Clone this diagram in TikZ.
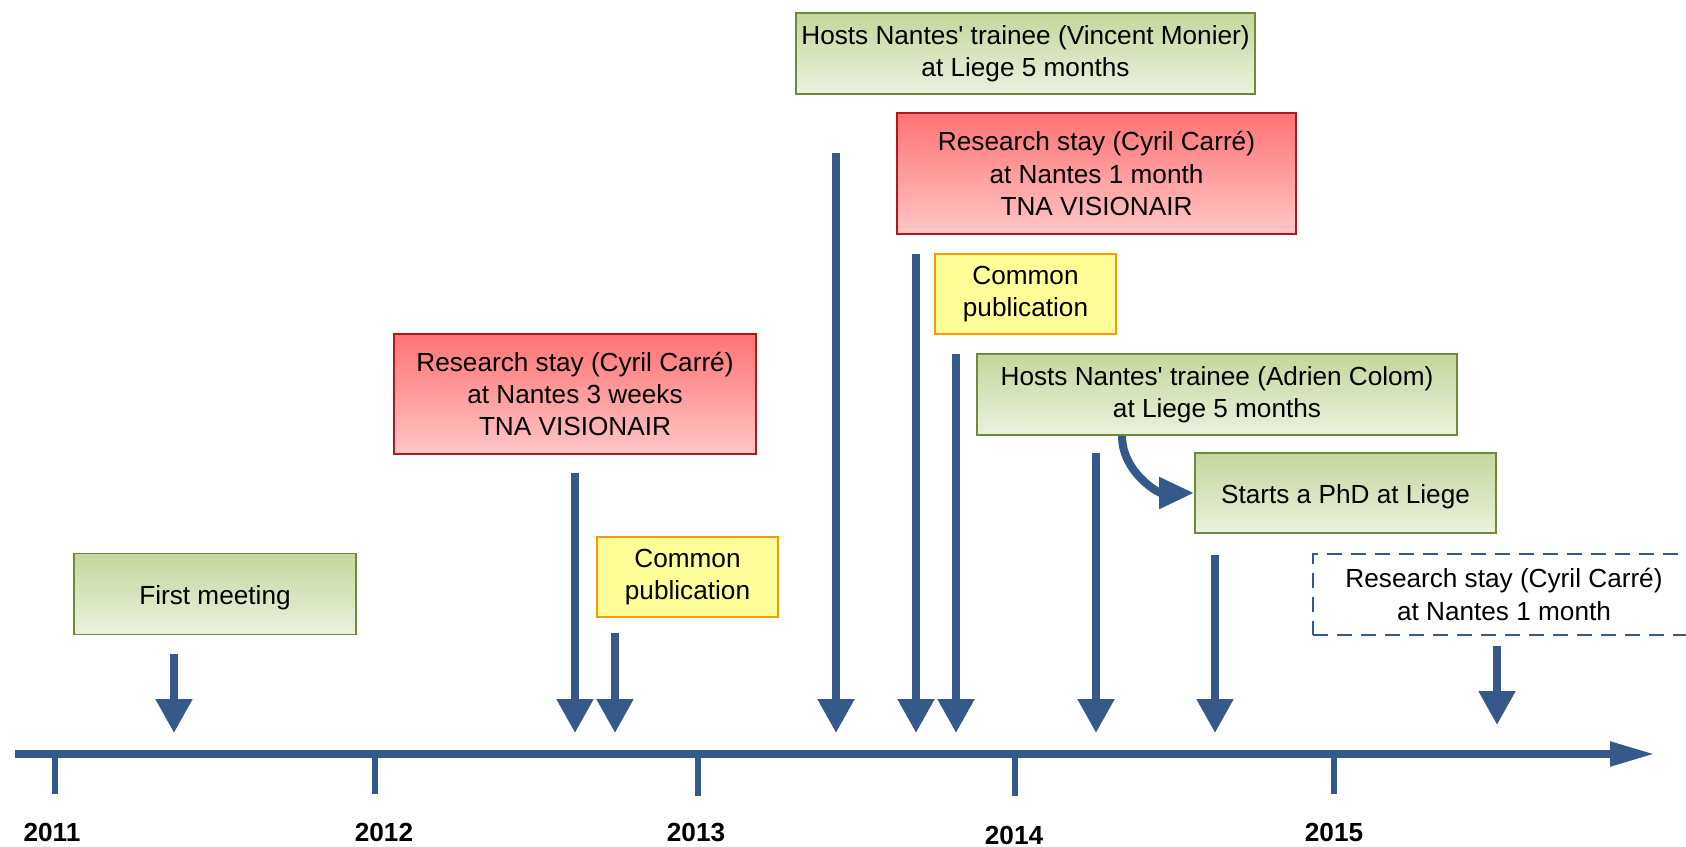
\documentclass[tikz,border=0pt]{standalone}
\usepackage{fontspec}
\setmainfont{Liberation Sans}
\usetikzlibrary{arrows.meta}

\begin{document}
\begin{tikzpicture}[x=0.02cm, y=-0.02cm,
  every node/.style={font=\fontsize{14.9}{18.4}\selectfont, align=center, inner sep=2pt},
  lowtext/.style={execute at begin node={\rule{0pt}{15.5pt}}},
  greenbox/.style={lowtext, draw=greenline, line width=1.1pt, top color=greentop, bottom color=greenbot, minimum height=1.62cm},
  redbox/.style={draw=redline, line width=1.1pt, top color=redtop, bottom color=redbot, minimum height=2.41cm},
  yellowbox/.style={lowtext, draw=orangeline, line width=1.1pt, fill=yellowfill, minimum width=3.62cm, minimum height=1.6cm},
  planbox/.style={lowtext, draw=evblue, line width=1.1pt, dash pattern=on 0.3cm off 0.18cm, minimum height=1.62cm},
  evt/.style={evblue, line width=4.6pt, -{Triangle[width=0.7cm, length=0.68cm]}},
  timeline/.style={evblue, line width=4.6pt, -{Triangle[width=0.46cm, length=0.9cm]}},
  yearmark/.style={evblue, line width=3.6pt},
  year/.style={font=\fontsize{14.9}{18.4}\selectfont\bfseries}]
% Define colors
\definecolor{evblue}{RGB}{52,89,138}
\definecolor{greenline}{RGB}{110,138,58}
\definecolor{greentop}{RGB}{196,215,155}
\definecolor{greenbot}{RGB}{235,241,222}
\definecolor{redline}{RGB}{180,22,30}
\definecolor{redtop}{RGB}{255,115,115}
\definecolor{redbot}{RGB}{255,198,198}
\definecolor{orangeline}{RGB}{255,153,0}
\definecolor{yellowfill}{RGB}{255,255,153}

\clip (0,0) rectangle (1686,847);

% Time axis
\coordinate (ax0) at (15,754);
\coordinate (ax1) at (1655,754);
\draw[timeline] (ax0) -- (ax1);
\foreach \yr/\x/\lx/\ly/\e in {2011/55/52/832.5/794, 2012/375/384/832.5/794, 2013/698/696/832.5/796, 2014/1015/1014/835/796, 2015/1334/1334/832.5/794} {
        \draw[yearmark] (\x,754) -- (\x,\e);
        \node[year] (y\yr) at (\lx,\ly) {\yr};
}

% Events
\node[greenbox, minimum width=5.64cm] (meet) at (215,594) {First meeting};
\node[redbox, minimum width=7.24cm] (stayA) at (575,394) {Research stay (Cyril Carré)\\at Nantes 3 weeks\\TNA VISIONAIR};
\node[yellowbox] (pubA) at (687.5,577) {Common\\publication};
\node[greenbox, minimum width=9.18cm] (hostA) at (1025.5,53.5) {Hosts Nantes\textquotesingle{} trainee (Vincent Monier)\\at Liege 5 months};
\node[redbox, minimum width=7.98cm] (stayB) at (1096.5,173.5) {Research stay (Cyril Carré)\\at Nantes 1 month\\TNA VISIONAIR};
\node[yellowbox] (pubB) at (1025.5,294) {Common\\publication};
\node[greenbox, minimum width=9.6cm] (hostB) at (1217,394.5) {Hosts Nantes\textquotesingle{} trainee (Adrien Colom)\\at Liege 5 months};
\node[greenbox, minimum width=6.02cm, minimum height=1.6cm] (phd) at (1345.5,493) {Starts a PhD at Liege};
\node[planbox, minimum width=7.64cm] (stayC) at (1504,594.5) {Research stay (Cyril Carré)\\at Nantes 1 month};

% Arrows to the axis
\coordinate (tip) at (0,733);
\foreach \x/\t/\n in {174/654/meet, 575/473/stayA, 615/633/pubA, 836/153/hostA, 916/254/stayB, 956/354/pubB, 1096/453/hostB, 1215/555/phd} {
        \coordinate (\n-a) at (\x,\t);
        \draw[evt] (\n-a) -- (\n-a |- tip);
}
\coordinate (stayC-a) at (1497,646);
\coordinate (stayC-b) at (1497,725);
\draw[evt] (stayC-a) -- (stayC-b);

\draw[evblue, line width=4.6pt, -{Triangle[width=0.6cm, length=0.7cm]}] ([xshift=-1.9cm]hostB.south) to[out=-90, in=180] (phd.west);
\end{tikzpicture}
\end{document}
